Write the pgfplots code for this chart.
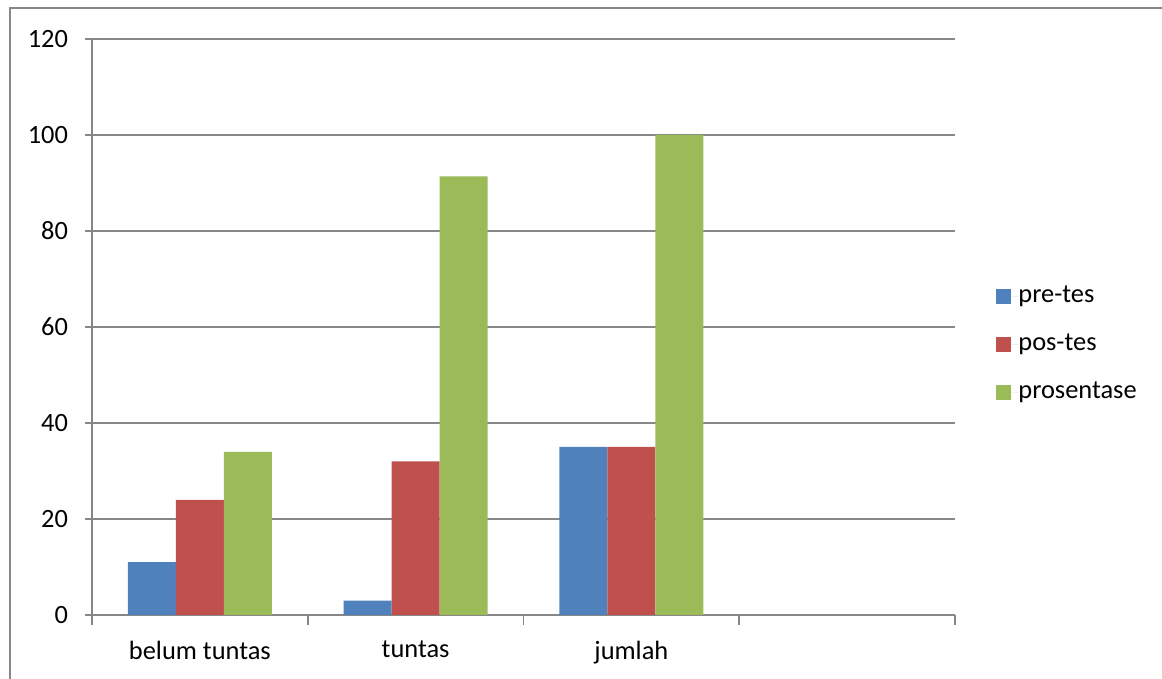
\documentclass[border=0pt]{standalone}
\usepackage{pgfplots}
\pgfplotsset{compat=1.18}
\usepackage{fontspec}
\setmainfont{Carlito}
\definecolor{cblue}{HTML}{4F81BD}
\definecolor{cred}{HTML}{C0504D}
\definecolor{cgreen}{HTML}{9BBB59}
\definecolor{cgrid}{HTML}{878787}
\begin{document}
\begin{tikzpicture}[x=1pt,y=1pt]
\path[use as bounding box] (0,0) rectangle (581,339.5);
\draw[color=cgrid, line width=1pt] (5,-5) -- (5,335.5) -- (590,335.5);
\begin{axis}[
  at={(46pt,32pt)}, anchor=south west,
  scale only axis, width=431.5pt, height=288pt,
  clip=false,
  font=\fontsize{13.2}{15}\selectfont,
  /pgf/number format/assume math mode=true,
  xmin=0, xmax=4, ymin=0, ymax=120,
  ytick={0,20,...,120},
  xtick={0.5,1.5,2.5},
  xticklabels={belum tuntas, tuntas, jumlah},
  minor xtick={0,1,2,3,4},
  major x tick style={draw=none},
  minor x tick style={color=cgrid, line width=0.9pt},
  y tick style={color=cgrid, line width=0.9pt},
  tick align=outside,
  major tick length=3.5pt,
  minor tick length=5pt,
  ymajorgrids,
  grid style={color=cgrid, line width=0.9pt},
  axis line style={color=cgrid, line width=0.9pt},
  axis x line*=bottom, axis y line*=left,
  xticklabel style={yshift=-6pt},
  yticklabel style={xshift=-5pt},
  ybar=0pt, bar width=23.97pt,
  legend style={at={(1.0475,0.46875)}, anchor=west, draw=none, fill=none,
    inner sep=0pt, row sep=12pt,
    nodes={inner sep=0pt, text height=9pt, text depth=3pt},
    font=\fontsize{13.2}{15}\selectfont},
  legend cell align=left,
  legend image code/.code={\fill[#1] (0pt,-3.75pt) rectangle (7.5pt,3.75pt); \path (0pt,0pt) -- (11pt,0pt);},
]
\addplot[fill=cblue, draw=none] coordinates {(0.5,11) (1.5,3) (2.5,35)};
\addplot[fill=cred, draw=none] coordinates {(0.5,24) (1.5,32) (2.5,35)};
\addplot[fill=cgreen, draw=none] coordinates {(0.5,34) (1.5,91.4) (2.5,100)};
\legend{pre-tes, pos-tes, prosentase}
\end{axis}
\end{tikzpicture}
\end{document}
